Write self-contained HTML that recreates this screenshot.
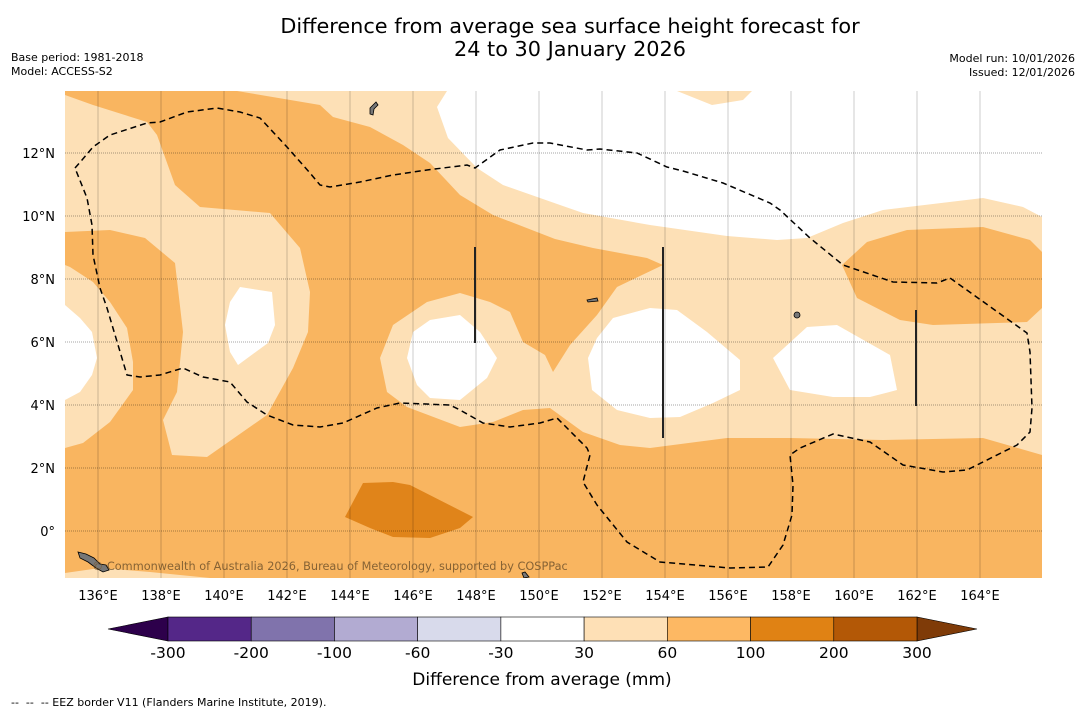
<!DOCTYPE html>
<html><head><meta charset="utf-8"><style>
body{margin:0;background:#fff;font-family:"DejaVu Sans","Liberation Sans",sans-serif;}
#wrap{position:relative;width:1085px;height:713px;overflow:hidden;background:#fff}
.t{position:absolute;white-space:nowrap;color:#000}
svg text{font-family:"DejaVu Sans","Liberation Sans",sans-serif}
</style></head><body>
<div id="wrap">
<div class="t" style="left:0;width:1140px;text-align:center;top:15px;font-size:20.8px;line-height:23px">Difference from average sea surface height forecast for<br>24 to 30 January 2026</div>
<div class="t" style="left:11px;top:51px;font-size:11px;line-height:14px">Base period: 1981-2018<br>Model: ACCESS-S2</div>
<div class="t" style="right:10px;top:52px;font-size:11px;line-height:14px;text-align:right">Model run: 10/01/2026<br>Issued: 12/01/2026</div>
<svg id="map" width="1085" height="713" style="position:absolute;left:0;top:0">
<defs><clipPath id="mc"><rect x="65" y="91" width="977" height="487"/></clipPath></defs>
<g clip-path="url(#mc)">
<rect x="65" y="91" width="977" height="487" fill="#f9b560"/>
<polygon fill="#fde0b6" points="237,91 320,105 333,117 370,127 403,145 430,163 460,195 493,215 555,239 593,248 647,258 663,265 617,287 597,315 570,345 553,372 545,355 523,342 510,312 490,302 460,293 427,302 393,325 380,358 387,392 407,407 460,427 493,422 523,410 550,408 583,432 620,445 650,448 727,438 790,438 883,440 983,438 1042,455 1042,91"/>
<polygon fill="#fde0b6" points="65,95 93,105 147,122 157,135 175,185 200,207 270,213 300,248 310,292 308,332 293,368 267,415 207,457 172,455 163,420 177,392 183,332 175,263 145,238 110,230 65,232"/>
<polygon fill="#fde0b6" points="65,265 70,267 93,282 110,302 127,328 133,362 133,390 110,422 83,443 65,448"/>
<polygon fill="#fde0b6" points="65,578 65,573 100,568 150,572 210,578"/>
<polygon fill="#f9b560" points="842,265 867,242 907,230 983,227 1030,240 1042,252 1042,308 1027,322 933,325 900,320 857,298"/>
<polygon fill="#fff" points="447,91 437,107 448,138 477,168 503,185 560,205 583,213 650,225 727,236 777,240 807,238 843,223 883,210 983,198 1023,207 1042,217 1042,91 752,91 743,100 712,105 677,91"/>
<polygon fill="#fff" points="65,305 80,318 92,332 97,358 92,375 80,392 65,400"/>
<polygon fill="#fff" points="240,287 272,292 275,325 268,343 238,365 230,352 225,325 230,302"/>
<polygon fill="#fff" points="413,332 430,320 460,315 480,332 497,358 487,378 460,400 430,398 417,385 407,358"/>
<polygon fill="#fff" points="613,318 650,308 677,310 707,332 740,360 740,390 713,403 680,417 650,418 617,410 592,390 588,358 597,338"/>
<polygon fill="#fff" points="807,327 837,325 890,355 897,390 870,397 833,397 790,390 773,358"/>
<polygon fill="#e0841a" points="363,483 393,482 410,485 473,517 460,528 430,538 393,537 370,528 345,517"/>
<g id="grid"></g>
<polyline fill="none" stroke="#000" stroke-width="1.5" stroke-dasharray="6,4" points="75,168 82,160 93,147 110,135 147,123 160,122 187,112 217,108 240,112 260,118 287,147 310,173 320,185 330,187 360,182 393,175 427,170 467,165 475,168 500,150 533,143 550,143 587,150 600,149 637,153 667,167 683,171 723,183 770,203 780,210 810,238 843,265 893,282 937,283 950,278 1027,333 1030,352 1032,408 1030,432 1017,445 967,470 943,472 903,465 870,442 833,434 800,448 790,455 793,485 792,515 783,545 768,567 730,568 660,562 627,542 597,505 583,482 590,455 587,448 557,418 540,423 510,427 483,423 460,410 450,405 400,403 377,408 343,423 320,427 293,425 267,415 247,402 230,382 203,377 183,368 160,375 140,377 127,375 107,308 100,288 93,255 92,225 87,198 75,168"/>
<g stroke="#222" stroke-width="2">
<line x1="475" y1="247" x2="475" y2="343"/><line x1="663" y1="247" x2="663" y2="438"/><line x1="916" y1="310" x2="916" y2="406"/>
</g>
<g fill="#777" stroke="#000" stroke-width="0.8">
<path d="M370,108 l6,-6 2,3 -4,4 -1,6 -3,-1z"/><path d="M78,552 l8,2 8,4 6,6 6,1 3,5 -6,2 -7,-4 -8,-6 -8,-4z"/><circle cx="797" cy="315" r="3"/><path d="M587,300 l10,-2 1,3 -10,1z"/><path d="M522,573 l3,-1 4,5 -5,1z"/>
</g>
<text x="92" y="570" font-size="11.3" fill="#7a5a30" opacity="0.9">© Commonwealth of Australia 2026, Bureau of Meteorology, supported by COSPPac</text>
</g>
<g id="axes" font-size="13"></g>
<g id="cbar"></g>
<text x="542" y="685" text-anchor="middle" font-size="17">Difference from average (mm)</text>
<text x="11" y="706" font-size="11" style="white-space:pre">--  --  -- EEZ border V11 (Flanders Marine Institute, 2019).</text>
</svg>
</div>
<script>
const lonTicks=[136,138,140,142,144,146,148,150,152,154,156,158,160,162,164];
const latTicks=[12,10,8,6,4,2,0];
const cbLabels=["-300","-200","-100","-60","-30","30","60","100","200","300"];
const cbColors=["#542788","#8073ac","#b2abd2","#d8daeb","#ffffff","#fee0b6","#fdb863","#e08214","#b35806"];
const cbExtLow="#2d004b", cbExtHigh="#7f3b08";
const NS="http://www.w3.org/2000/svg";
const X=lon=>66.5+(lon-135)*31.5, Y=lat=>531-lat*31.5;
function mk(t,a,p){const e=document.createElementNS(NS,t);for(const k in a)e.setAttribute(k,a[k]);p.appendChild(e);return e;}
const grid=document.getElementById('grid'),axes=document.getElementById('axes');
lonTicks.forEach(l=>{
 const g=mk('line',{x1:X(l),x2:X(l),y1:91,y2:578,stroke:'rgba(0,0,0,0.2)','stroke-width':1},grid);
 
 
 const t=mk('text',{x:X(l),y:600,'text-anchor':'middle'},axes);t.textContent=l+'°E';
 
 
});
latTicks.forEach(l=>{
 const g=mk('line',{x1:65,x2:1042,y1:Y(l),y2:Y(l),stroke:'rgba(0,0,0,0.35)','stroke-width':1,'stroke-dasharray':'1,1'},grid);
 
 
 const t=mk('text',{x:55,y:Y(l)+5,'text-anchor':'end'},axes);t.textContent=l===0?'0°':l+'°N';
 
 
});
const cb=document.getElementById('cbar');
const x0=168,x1=917,y0=617,h=24,w=(x1-x0)/cbColors.length;
let p=mk('polygon',{points:`108,${y0+h/2} ${x0},${y0} ${x0},${y0+h}`,fill:cbExtLow,stroke:'#000','stroke-width':0.6},cb);


p=mk('polygon',{points:`977,${y0+h/2} ${x1},${y0} ${x1},${y0+h}`,fill:cbExtHigh,stroke:'#000','stroke-width':0.6},cb);


cbColors.forEach((c,i)=>{
 const r=mk('rect',{x:x0+i*w,y:y0,width:w,height:h,fill:c,stroke:'#000','stroke-width':0.6},cb);
 
 
});
cbLabels.forEach((s,i)=>{
 const t=mk('text',{x:x0+i*w,y:658,'text-anchor':'middle','font-size':15.5},cb);t.textContent=s;
 
 
});
</script>
</body></html>
